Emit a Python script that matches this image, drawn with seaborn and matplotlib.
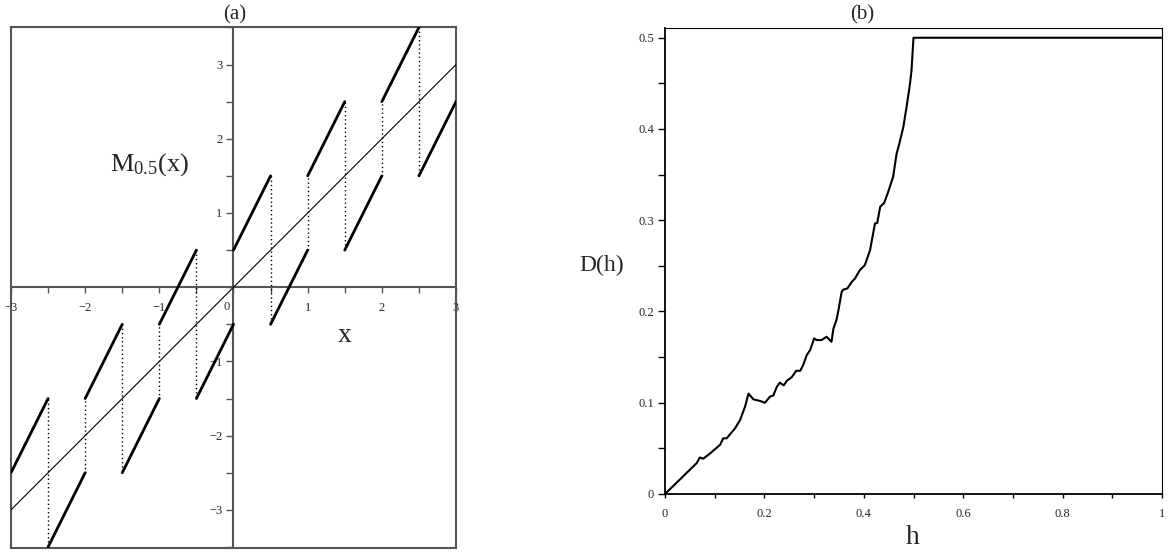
import numpy as np
import pandas as pd
import matplotlib
matplotlib.use("Agg")
import matplotlib.pyplot as plt
from matplotlib.ticker import MultipleLocator, FixedLocator, FuncFormatter
from matplotlib.patches import Rectangle
import seaborn as sns

# ---------------- data: panel (a) ----------------
seg_x0 = [-3.0, -2.5, -2.0, -1.5, -1.0, -0.5, 0.0, 0.5, 1.0, 1.5, 2.0, 2.5]
seg_x1 = [-2.5, -2.0, -1.5, -1.0, -0.5, 0.0, 0.5, 1.0, 1.5, 2.0, 2.5, 3.0]
seg_y0 = [-2.5, -3.5, -1.5, -2.5, -0.5, -1.5, 0.5, -0.5, 1.5, 0.5, 2.5, 1.5]
seg_y1 = [-1.5, -2.5, -0.5, -1.5, 0.5, -0.5, 1.5, 0.5, 2.5, 1.5, 3.5, 2.5]
diag_x = [-3.0, 3.0]
diag_y = [-3.0, 3.0]
a_xticks = [-3, -2, -1, 1, 2, 3]
a_yticks = [-3, -2, -1, 1, 2, 3]

# ---------------- data: panel (b) ----------------
h_vals = [0.0, 0.064, 0.070, 0.077, 0.091, 0.111, 0.117, 0.124, 0.141, 0.151,
          0.161, 0.168, 0.178, 0.191, 0.201, 0.211, 0.218, 0.225, 0.231, 0.239,
          0.245, 0.255, 0.264, 0.272, 0.278, 0.285, 0.292, 0.300, 0.305, 0.315,
          0.325, 0.335, 0.339, 0.345, 0.349, 0.3555, 0.359, 0.367, 0.376, 0.382,
          0.392, 0.402, 0.4125, 0.4225, 0.427, 0.433, 0.441, 0.449, 0.459, 0.466,
          0.4715, 0.4795, 0.486, 0.493, 0.496, 0.500, 1.0]
d_vals = [0.0, 0.034, 0.040, 0.0387, 0.0446, 0.054, 0.061, 0.061, 0.072, 0.081,
          0.0956, 0.110, 0.1037, 0.102, 0.100, 0.1066, 0.108, 0.1175, 0.122, 0.119,
          0.124, 0.128, 0.135, 0.135, 0.1413, 0.152, 0.1577, 0.1705, 0.1687, 0.1687,
          0.1723, 0.1668, 0.1815, 0.1906, 0.2015, 0.2216, 0.224, 0.2253, 0.2326, 0.236,
          0.2453, 0.2508, 0.267, 0.2965, 0.297, 0.3147, 0.319, 0.331, 0.3475, 0.373,
          0.384, 0.402, 0.424, 0.4498, 0.4644, 0.500, 0.500]
b_xticks = [0, 0.2, 0.4, 0.6, 0.8, 1.0]
b_yticks = [0, 0.1, 0.2, 0.3, 0.4, 0.5]

# ---------------- style ----------------
sns.set_theme(style="white")
plt.rcParams["font.family"] = ["Liberation Serif", "DejaVu Serif"]
plt.rcParams["mathtext.fontset"] = "custom"
plt.rcParams["mathtext.rm"] = "Liberation Serif"
plt.rcParams["mathtext.it"] = "Liberation Serif:italic"
plt.rcParams["axes.unicode_minus"] = True

W, H = 1171, 552
fig = plt.figure(figsize=(W / 100, H / 100), dpi=100)
fig.patch.set_facecolor("white")

gray = "#555555"

# ================= panel (a) =================
axa = fig.add_axes([11 / W, 1 - 547.7 / H, 445 / W, 521 / H])
axa.set_facecolor("white")

seg_rows = []
for i in range(len(seg_x0)):
    seg_rows.append({"x": seg_x0[i], "y": seg_y0[i], "seg": i})
    seg_rows.append({"x": seg_x1[i], "y": seg_y1[i], "seg": i})
seg_df = pd.DataFrame(seg_rows)

jump_rows = []
for i in range(len(seg_x0) - 1):
    xj = seg_x1[i]
    if xj == 0:
        continue
    jump_rows.append({"x": xj, "y": seg_y1[i], "seg": i})
    jump_rows.append({"x": xj, "y": seg_y0[i + 1], "seg": i})
jump_df = pd.DataFrame(jump_rows)

diag_df = pd.DataFrame({"x": diag_x, "y": diag_y})

sns.lineplot(data=diag_df, x="x", y="y", ax=axa, color="black", lw=0.8,
             estimator=None, sort=False, zorder=3)
sns.lineplot(data=jump_df, x="x", y="y", units="seg", ax=axa, color="black",
             lw=1.0, linestyle=(0, (1, 2)), estimator=None, sort=False, zorder=3)
sns.lineplot(data=seg_df, x="x", y="y", units="seg", ax=axa, color="black",
             lw=2.0, estimator=None, sort=False, zorder=4)

axa.set_xlim(-3, 3)
axa.set_ylim(-3.51, 3.51)
axa.set_xlabel("")
axa.set_ylabel("")
for s in ["top", "right"]:
    axa.spines[s].set_visible(False)
axa.spines["left"].set_position("zero")
axa.spines["bottom"].set_position("zero")
for s in ["left", "bottom"]:
    axa.spines[s].set_color(gray)
    axa.spines[s].set_linewidth(1.5)
    axa.spines[s].set_zorder(2)
axa.add_patch(Rectangle((0, 0), 1, 1, transform=axa.transAxes, fill=False,
                        ec=gray, lw=1.5, clip_on=False, zorder=2))

axa.xaxis.set_major_locator(FixedLocator(a_xticks))
axa.yaxis.set_major_locator(FixedLocator(a_yticks))
axa.xaxis.set_minor_locator(MultipleLocator(0.5))
axa.yaxis.set_minor_locator(MultipleLocator(0.5))
axa.xaxis.set_major_formatter(FuncFormatter(lambda v, p: f"{v:g}".replace("-", "\u2212")))
axa.yaxis.set_major_formatter(FuncFormatter(lambda v, p: f"{v:g}".replace("-", "\u2212")))
axa.tick_params(axis="x", which="both", direction="out", length=4, width=1,
                color=gray, pad=7, labelsize=9, bottom=True)
axa.tick_params(axis="y", which="both", direction="out", length=5, width=1,
                color=gray, pad=3, labelsize=9, left=True)
axa.annotate("0", xy=(0, 0), xytext=(-5.3, -14), textcoords="offset points",
             ha="center", va="center", fontsize=9)
axa.grid(False)

fig.text(110 / W, 1 - 165 / H, r"M$_{\mathrm{0.5}}$(x)", ha="left", va="center",
         fontsize=19)
fig.text(345 / W, 1 - 335 / H, "x", ha="center", va="center", fontsize=20)
fig.text(235 / W, 1 - 15 / H, "(a)", ha="center", va="center", fontsize=15)

# ================= panel (b) =================
axb = fig.add_axes([665 / W, 1 - 494 / H, 497 / W, (494 - 27.7) / H])
axb.set_facecolor("white")
b_df = pd.DataFrame({"h": h_vals, "D": d_vals})
sns.lineplot(data=b_df, x="h", y="D", ax=axb, color="black", lw=1.5,
             estimator=None, sort=False, zorder=3)
axb.set_xlim(0, 1)
axb.set_ylim(0, 0.511)
axb.set_xlabel("")
axb.set_ylabel("")
for s in ["top", "right"]:
    axb.spines[s].set_color("black")
    axb.spines[s].set_linewidth(0.8)
for s in ["left", "bottom"]:
    axb.spines[s].set_color("black")
    axb.spines[s].set_linewidth(1.3)
axb.xaxis.set_major_locator(FixedLocator(b_xticks))
axb.yaxis.set_major_locator(FixedLocator(b_yticks))
axb.xaxis.set_minor_locator(MultipleLocator(0.1))
axb.yaxis.set_minor_locator(MultipleLocator(0.05))
axb.xaxis.set_major_formatter(FuncFormatter(lambda v, p: f"{v:g}"))
axb.yaxis.set_major_formatter(FuncFormatter(lambda v, p: f"{v:g}"))
axb.tick_params(axis="x", which="both", direction="out", length=3, width=1,
                color="black", pad=7, labelsize=9, bottom=True)
axb.tick_params(axis="y", which="both", direction="out", length=5, width=1,
                color="black", pad=3, labelsize=9, left=True)
axb.grid(False)

fig.text(602 / W, 1 - 265 / H, "D(h)", ha="center", va="center", fontsize=17)
fig.text(913 / W, 1 - 537 / H, "h", ha="center", va="center", fontsize=20)
fig.text(862 / W, 1 - 15 / H, "(b)", ha="center", va="center", fontsize=15)

fig.savefig("out.png", dpi=100, facecolor="white")
